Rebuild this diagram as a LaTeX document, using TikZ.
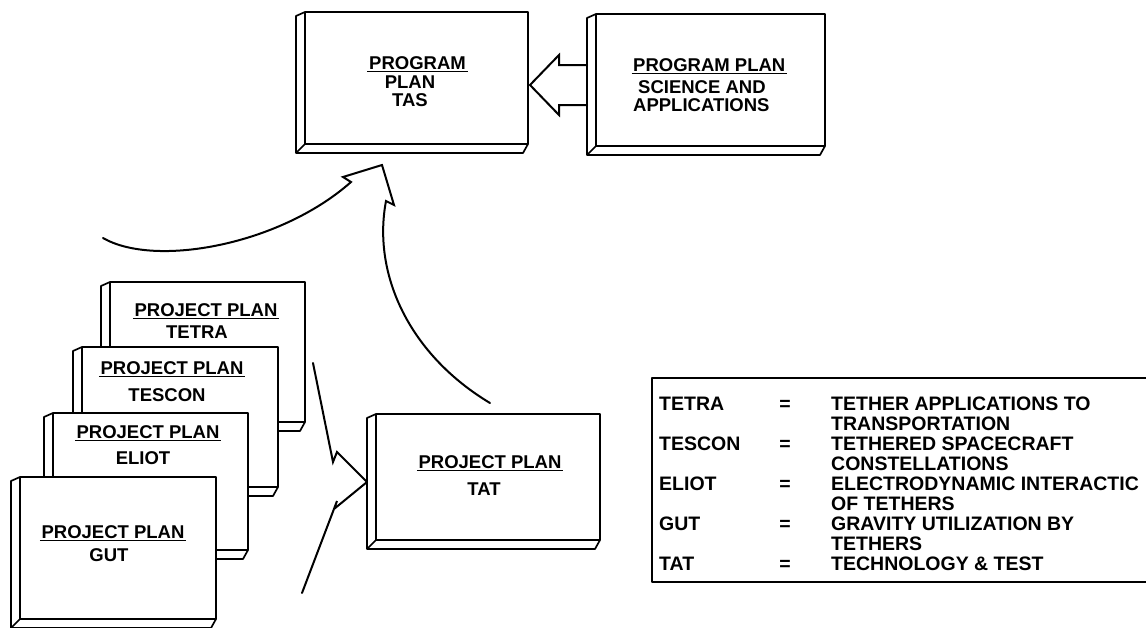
\documentclass[tikz,border=0pt]{standalone}
\usepackage{fontspec}
\setmainfont{Liberation Sans}
\usetikzlibrary{calc}
\newcommand\platebox[1]{%
  \filldraw[boxline, fill=white] (#1.north west) -- (#1.north east) -- (#1.south east)
    -- ([xshift=-5pt,yshift=-9pt]#1.south east) -- ([xshift=-9pt,yshift=-9pt]#1.south west)
    -- ([xshift=-9pt,yshift=-4pt]#1.north west) -- cycle;
  \draw[boxline] (#1.north west) -- (#1.south west) -- (#1.south east);
  \draw[boxline] (#1.south west) -- ([xshift=-8pt,yshift=-8pt]#1.south west);
}
\newcommand\ulof[1]{%
  \draw[line width=1.4pt] ([xshift=-1.5pt,yshift=-2pt]#1.base west) -- ([xshift=1.5pt,yshift=-2pt]#1.base east);
}
\begin{document}
\begin{tikzpicture}[x=1pt,y=-1pt,line join=round,
  boxline/.style={line width=1.7pt},
  face/.style={inner sep=0pt,outer sep=0pt,anchor=north west},
  lbl/.style={font=\fontsize{18.5}{18.5}\selectfont\bfseries,inner sep=0pt,anchor=base},
  leg/.style={font=\fontsize{19.5}{19.5}\selectfont\bfseries,inner sep=0pt,anchor=base west},
  eqs/.style={font=\fontsize{19.5}{19.5}\selectfont\bfseries,inner sep=0pt,anchor=base},
  conn/.style={line width=2pt,line join=miter,line cap=round}]
\useasboundingbox (0,0) rectangle (1146,627);

% ---- Program plan TAS
\path node[face,minimum width=223pt,minimum height=132pt] (tas) at (305,12) {};
\platebox{tas}
\node[lbl] (tasA) at (417.5,69.6) {PROGRAM}; \ulof{tasA}
\node[lbl] (tasB) at (410,88.6) {PLAN};
\node[lbl] (tasC) at (410,106.6) {TAS};

% ---- Program plan Science and Applications
\path node[face,minimum width=229pt,minimum height=132pt] (sa) at (596,14) {};
\platebox{sa}
\node[lbl,anchor=base west] (saA) at (633,71.6) {PROGRAM PLAN}; \ulof{saA}
\node[lbl,anchor=base west] (saB) at (638,93.6) {SCIENCE AND};
\node[lbl,anchor=base west] (saC) at (633,111.6) {APPLICATIONS};

% hollow arrow S&A -> TAS
\draw[conn] ($(sa.west)+(-9,-15)$) -- ($(sa.west)+(-37,-15)$) -- ($(sa.west)+(-37,-25)$)
  -- ($(tas.east)+(2,7)$) -- ($(sa.west)+(-37,35)$) -- ($(sa.west)+(-37,25)$) -- ($(sa.west)+(-9,25)$);

% ---- Project plan stack
\path node[face,minimum width=195pt,minimum height=140pt] (tetra) at (110,282) {};
\platebox{tetra}
\node[lbl] (tetraA) at (206,316.6) {PROJECT PLAN}; \ulof{tetraA}
\node[lbl] (tetraB) at (197,338.6) {TETRA};

\path node[face,minimum width=196pt,minimum height=140pt] (tescon) at (82,347) {};
\platebox{tescon}
\node[lbl] (tesconA) at (172,374.6) {PROJECT PLAN}; \ulof{tesconA}
\node[lbl] (tesconB) at (167,401.6) {TESCON};

\path node[face,minimum width=195pt,minimum height=137pt] (eliot) at (53,413) {};
\platebox{eliot}
\node[lbl] (eliotA) at (148,438.6) {PROJECT PLAN}; \ulof{eliotA}
\node[lbl] (eliotB) at (143,464.6) {ELIOT};

\path node[face,minimum width=196pt,minimum height=142pt] (gut) at (20,477) {};
\platebox{gut}
\node[lbl] (gutA) at (113,538.6) {PROJECT PLAN}; \ulof{gutA}
\node[lbl] (gutB) at (109,561.6) {GUT};

% ---- Project plan TAT
\path node[face,minimum width=224pt,minimum height=126pt] (tat) at (376,414) {};
\platebox{tat}
\node[lbl] (tatA) at (490,468.6) {PROJECT PLAN}; \ulof{tatA}
\node[lbl] (tatB) at (484,495.6) {TAT};

% ---- curved arrows merging into TAS
\coordinate (lstart) at (103,238);
\coordinate (tip) at ($(tas.south west)+(77,21)$);
\draw[conn] (lstart) .. controls (155,268) and (280,245) .. (351,182) -- (343,177) -- (tip)
  -- (394,205) -- (386,201) .. controls (372,275) and (410,355) .. ($(tat.north)+(2,-11)$);

% ---- lightning arrows into TAT
\coordinate (tatin) at ($(tat.west)+(-9,5)$);
\coordinate (upstart) at ($(tetra.east)+(8,11)$);
\coordinate (lowstart) at (302,593);
\draw[conn] (upstart) -- (333,462) -- (337,452) -- (tatin);
\draw[conn] (lowstart) -- (337,501) -- (334,509) -- (tatin);

% ---- legend
\draw[boxline] (1146,378) -- (652,378) -- (652,582) -- (1146,582);
\node[leg] (k1) at (659,410) {TETRA};
\node[eqs] (e1) at (785,410) {=};
\node[leg] (d1) at (831,410) {TETHER APPLICATIONS TO};
\node[leg] (d1b) at (831,430) {TRANSPORTATION};
\node[leg] (k2) at (659,450) {TESCON};
\node[eqs] (e2) at (785,450) {=};
\node[leg] (d2) at (831,450) {TETHERED SPACECRAFT};
\node[leg] (d2b) at (831,470) {CONSTELLATIONS};
\node[leg] (k3) at (659,490) {ELIOT};
\node[eqs] (e3) at (785,490) {=};
\node[leg] (d3) at (831,490) {ELECTRODYNAMIC INTERACTIC};
\node[leg] (d3b) at (831,510) {OF TETHERS};
\node[leg] (k4) at (659,530) {GUT};
\node[eqs] (e4) at (785,530) {=};
\node[leg] (d4) at (831,530) {GRAVITY UTILIZATION BY};
\node[leg] (d4b) at (831,550) {TETHERS};
\node[leg] (k5) at (659,570) {TAT};
\node[eqs] (e5) at (785,570) {=};
\node[leg] (d5) at (831,570) {TECHNOLOGY \& TEST};
\end{tikzpicture}
\end{document}
